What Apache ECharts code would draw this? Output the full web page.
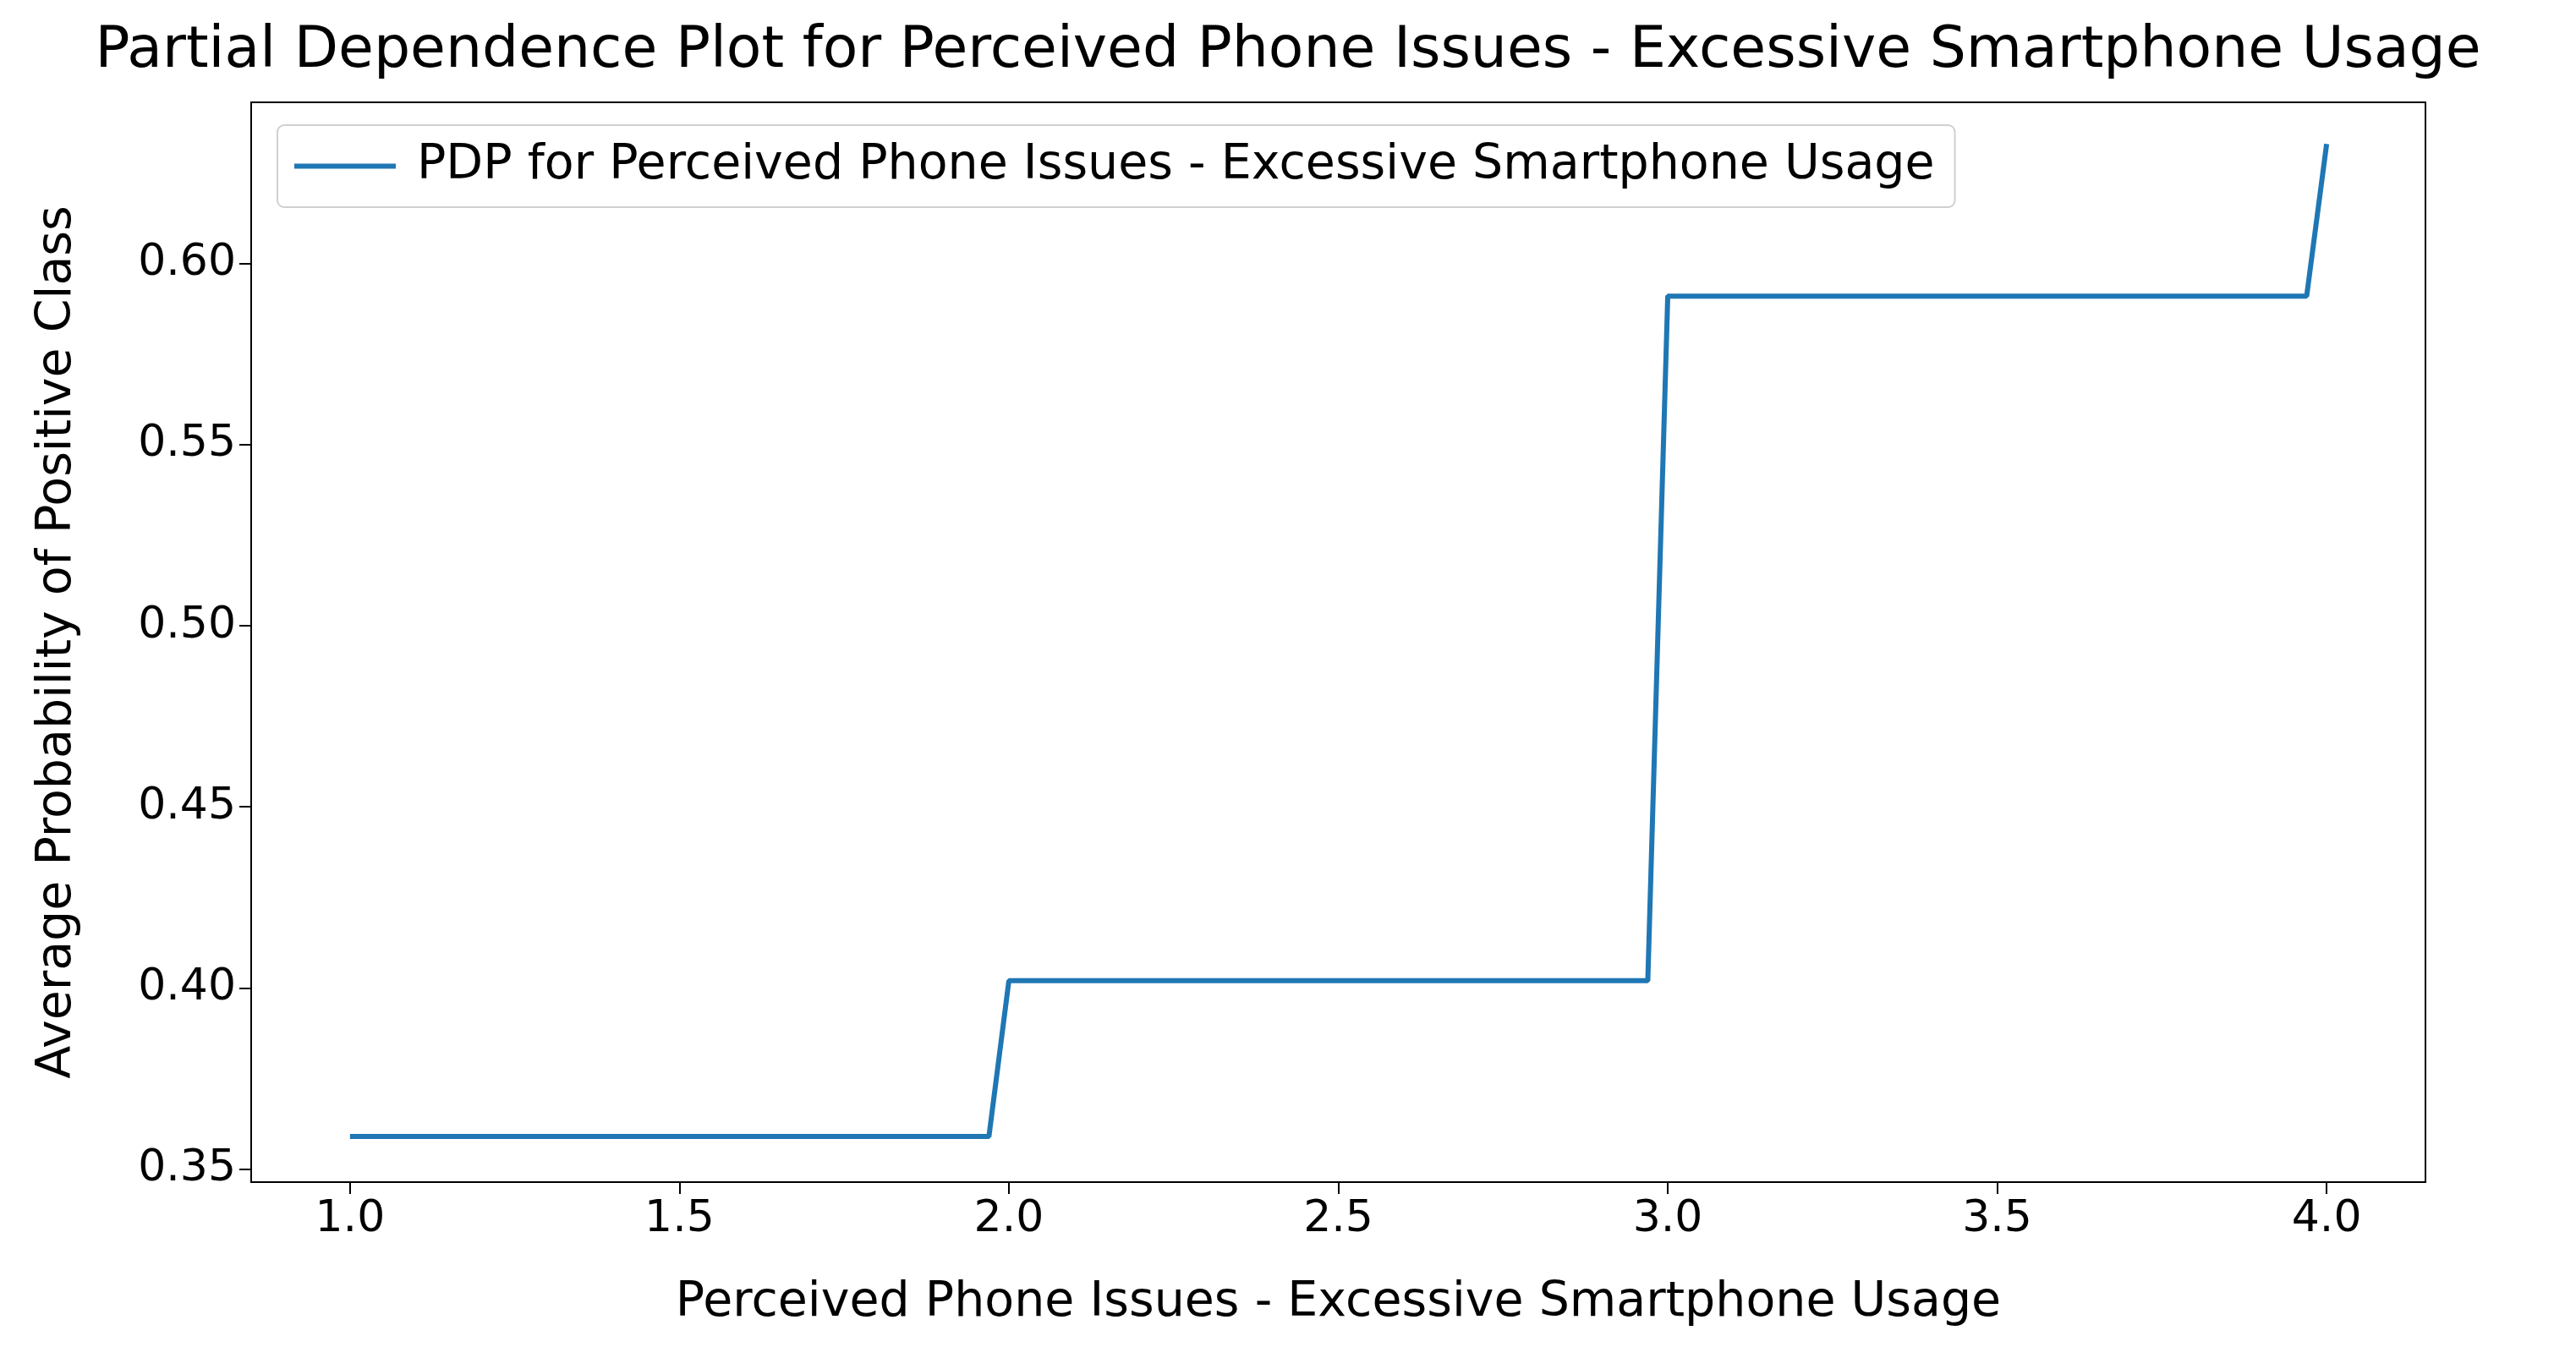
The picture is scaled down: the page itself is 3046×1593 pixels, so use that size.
<!DOCTYPE html>
<html lang="en">
<head>
<meta charset="UTF-8">
<title>PDP</title>
<script src="https://cdn.jsdelivr.net/npm/echarts@6/dist/echarts.min.js"></script>
<style>
  html, body { margin: 0; padding: 0; background: #fff; }
  #container { width: 3046px; height: 1593px; }
</style>
</head>
<body>
<div id="container"></div>
<script type="text/javascript">
    var xValues = [1.0, 1.9697, 2.0, 2.9697, 3.0, 3.9697, 4.0];
    var yValues = [0.359, 0.359, 0.402, 0.402, 0.591, 0.591, 0.633];
    var xTicks = [1.0, 1.5, 2.0, 2.5, 3.0, 3.5, 4.0];
    var yTicks = [0.35, 0.40, 0.45, 0.50, 0.55, 0.60];
    var seriesName = 'PDP for Perceived Phone Issues - Excessive Smartphone Usage';

    var points = xValues.map(function (x, i) { return [x, yValues[i]]; });
    var font = 'DejaVu Sans';
    var myChart = echarts.init(document.getElementById('container'));

    myChart.setOption({
        animation: false,
        title: {
            text: 'Partial Dependence Plot for Perceived Phone Issues - Excessive Smartphone Usage',
            left: 'center',
            top: 22,
            textStyle: { fontFamily: font, fontSize: 68, fontWeight: 'normal', color: '#000' }
        },
        legend: {
            left: 328, top: 148,
            padding: [20, 24, 20, 20],
            itemWidth: 120, itemHeight: 6, itemGap: 20,
            borderColor: '#d0d0d0', borderWidth: 2, borderRadius: 8,
            textStyle: { fontFamily: font, fontSize: 57, color: '#000', padding: [0, 0, 0, 20] },
            data: [{ name: seriesName, icon: 'rect' }]
        },
        grid: {
            left: 297, right: 3046 - 2868, top: 121, bottom: 1593 - 1398,
            show: true, borderColor: '#000', borderWidth: 2, backgroundColor: 'transparent'
        },
        xAxis: {
            type: 'value', min: 0.85, max: 4.15,
            name: 'Perceived Phone Issues - Excessive Smartphone Usage',
            nameLocation: 'middle', nameGap: 115,
            nameTextStyle: { fontFamily: font, fontSize: 57, color: '#000' },
            axisLine: { show: true, lineStyle: { color: '#000', width: 2 } },
            axisTick: { show: true, length: 14, lineStyle: { color: '#000', width: 2 },
                customValues: xTicks },
            axisLabel: { fontFamily: font, fontSize: 52, color: '#000', margin: 18,
                customValues: xTicks,
                formatter: function (v) { return v.toFixed(1); } },
            splitLine: { show: false }
        },
        yAxis: {
            type: 'value', min: 0.3464, max: 0.6445,
            name: 'Average Probability of Positive Class',
            nameLocation: 'middle', nameGap: 200,
            nameTextStyle: { fontFamily: font, fontSize: 57, color: '#000' },
            axisLine: { show: true, lineStyle: { color: '#000', width: 2 } },
            axisTick: { show: true, length: 14, lineStyle: { color: '#000', width: 2 },
                customValues: yTicks },
            axisLabel: { fontFamily: font, fontSize: 52, color: '#000', margin: 18,
                customValues: yTicks,
                formatter: function (v) { return v.toFixed(2); } },
            splitLine: { show: false }
        },
        series: [{
            name: seriesName,
            type: 'line',
            data: points,
            showSymbol: false,
            lineStyle: { color: '#1f77b4', width: 6 },
            itemStyle: { color: '#1f77b4' }
        }]
    });
</script>
</body>
</html>
